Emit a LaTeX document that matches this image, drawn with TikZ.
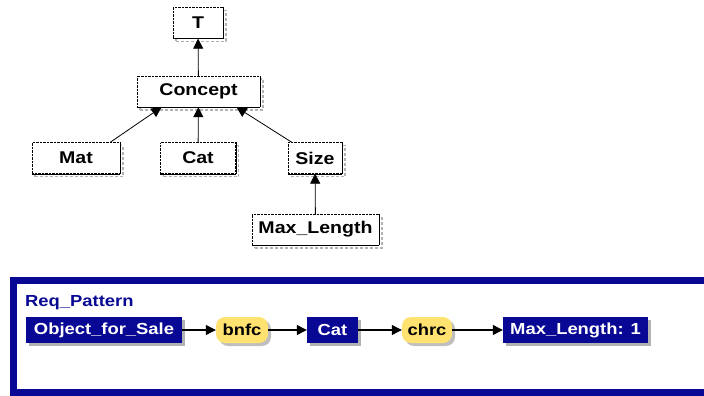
\documentclass[tikz,border=0pt]{standalone}
\usepackage{fontspec}
\newfontfamily\diagfont[FakeStretch=1.15]{Liberation Sans}
\usetikzlibrary{arrows.meta,shadows}

\definecolor{cgblue}{RGB}{8,8,148}
\definecolor{cgyellow}{RGB}{255,226,112}

\tikzset{
  typebox/.style={draw, densely dotted, fill=white, inner xsep=4pt,
    minimum height=31pt, font=\diagfont\bfseries\fontsize{17}{20}\selectfont,
    drop shadow={opacity=1, fill=none, draw=gray!60, densely dashed, line width=1.2pt,
      shadow xshift=3pt, shadow yshift=-3pt},
    append after command={(\tikzlastnode.south west) edge[solid, draw=black]
      (\tikzlastnode.south east) (\tikzlastnode.south east) edge[solid, draw=black]
      (\tikzlastnode.north east)}},
  conceptbox/.style={fill=cgblue, text=white, inner xsep=6pt, minimum height=26pt,
    font=\diagfont\bfseries\fontsize{16}{19}\selectfont,
    drop shadow={opacity=1, fill=gray!60, shadow xshift=3pt, shadow yshift=-3pt}},
  relbox/.style={fill=cgyellow, rounded corners=9pt, inner xsep=5pt, minimum height=26pt,
    font=\diagfont\bfseries\fontsize{16}{19}\selectfont,
    drop shadow={opacity=1, fill=gray!50, shadow xshift=3pt, shadow yshift=-3pt}},
  isa/.style={-{Triangle[length=10pt,width=10pt]}, line width=0.8pt},
  link/.style={-{Triangle[length=10pt,width=10pt]}, line width=1.1pt}
}

\begin{document}
\begin{tikzpicture}[x=1pt,y=-1pt]
    \useasboundingbox (0,0) rectangle (704,396);

    % Type hierarchy
    \node[typebox, minimum width=50pt] (top) at (198,23) {T};
    \node[typebox, minimum width=123pt] (concept) at (198.5,91.5) {Concept};
    \node[typebox, minimum width=88pt] (mat) at (76,158) {Mat};
    \node[typebox, minimum width=75pt] (cat) at (198,158) {Cat};
    \node[typebox, minimum width=54pt] (size) at (315,158) {Size};
    \node[typebox, minimum width=127pt] (maxlen) at (315.5,229.5) {Max\_Length};

    % Subtype links
    \draw[isa] (concept) -- (top);
    \draw[isa] ([xshift=-10pt]mat.north east) -- ([xshift=-37pt]concept.south);
    \draw[isa] (cat) -- (concept);
    \draw[isa] ([xshift=4pt]size.north west) -- ([xshift=38pt]concept.south);
    \draw[isa] (maxlen) -- (size);

    % Pattern frame
    \draw[cgblue, line width=7pt] (720,280.5) -- (13,280.5) -- (13,392) -- (720,392);
    \node[anchor=west, inner sep=0pt, text=cgblue,
      font=\diagfont\bfseries\fontsize{16}{19}\selectfont] (title) at (25,303) {Req\_Pattern};

    % Pattern graph
    \node[conceptbox, minimum width=156pt] (sale) at (104,330) {Object\_for\_Sale};
    \node[relbox, minimum width=52pt] (bnfc) at (242,330) {bnfc};
    \node[conceptbox, minimum width=51pt] (pcat) at (332.5,330) {Cat};
    \node[relbox, minimum width=50pt] (chrc) at (427,330) {chrc};
    \node[conceptbox, minimum width=145pt] (plen) at (575.5,330) {Max\_Length: 1};

    \draw[link] (sale) -- (bnfc);
    \draw[link] (bnfc) -- (pcat);
    \draw[link] (pcat) -- (chrc);
    \draw[link] (chrc) -- (plen);
  \end{tikzpicture}
\end{document}
